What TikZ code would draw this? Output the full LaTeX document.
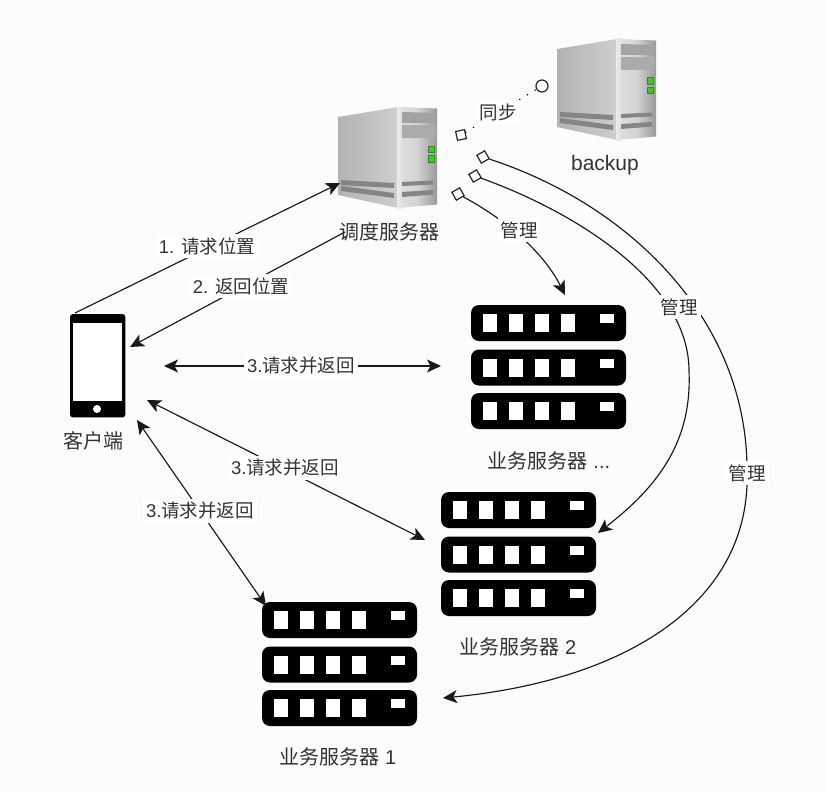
\documentclass[tikz,border=0pt]{standalone}
\usepackage{fontspec}
\setmainfont{Liberation Sans}
\newfontfamily\cjk{Noto Sans CJK SC}
\usetikzlibrary{arrows.meta,shapes.geometric,calc}
\definecolor{bgc}{HTML}{FCFCFC}
\definecolor{txt}{HTML}{333333}
\definecolor{led}{HTML}{45C42D}
\tikzset{
  headtip/.tip={Stealth[length=14pt,width=13pt,inset=3.5pt]},
  conn/.style={draw=black!90,line width=1.15pt,-headtip},
  twoway/.style={draw=black!90,line width=1.15pt,headtip-headtip},
  lab/.style={fill=white,text=txt,font=\fontsize{18.5}{22}\selectfont,inner sep=3pt},
  captext/.style={text=txt,font=\fontsize{20}{24}\selectfont,inner sep=0pt},
  sqr/.style={rectangle,draw=black!85,fill=white,line width=1.2pt,minimum size=9pt,inner sep=0pt},
  circ/.style={circle,draw=black!85,fill=white,line width=1.2pt,minimum size=12pt,inner sep=0pt},
  iconbox/.style={inner sep=0pt,draw=none,anchor=north west},
  rackrow/.style={fill=black,rounded corners=8pt},
  win/.style={fill=white},
  pics/rack/.style={code={
    \foreach \dy in {0,44.5,88}{
      \fill[rackrow] (0,\dy) rectangle (155,\dy+36);
      \foreach \dx in {12,38,64,90}{\fill[win] (\dx,\dy+9) rectangle (\dx+14,\dy+27);}
      \fill[win] (129,\dy+9) rectangle (143,\dy+18);
    }}},
  pics/tower/.style={code={
    \shade[left color=black!30,right color=black!19] (0,10) -- (60,0) -- (60,101) -- (0,88) -- cycle;
    \shade[left color=black!12,right color=black!40,middle color=black!17] (60,0) -- (99,1.5) -- (99,97.5) -- (60,101) -- cycle;
    \shade[left color=black!8,right color=black!12] (59,0) rectangle (64,101);
    \fill[black!36] (64,5) -- (98,6) -- (98,16) -- (64,16) -- cycle;
    \fill[black!33] (64,18) -- (98,18.5) -- (98,31) -- (64,31) -- cycle;
    \fill[black!30!led] (89.5,38.5) rectangle (96.5,46);
    \fill[black!30!led] (89.5,48) rectangle (96.5,55.5);
    \fill[led] (90.5,39.5) rectangle (95.5,45);
    \fill[led] (90.5,49) rectangle (95.5,54.5);
    \fill[black!48] (3,73) -- (56,76) -- (56,81) -- (3,78) -- cycle;
    \fill[black!48] (3,79) -- (56,86) -- (56,91) -- (3,84) -- cycle;
    \fill[black!48] (64,75) -- (95,73.5) -- (95,77.5) -- (64,79) -- cycle;
    \fill[black!48] (64,85) -- (95,83) -- (95,87.5) -- (64,90) -- cycle;
  }},
}
\newcommand{\zh}[1]{{\cjk #1}}
\begin{document}
\begin{tikzpicture}[x=1pt,y=-1pt]
\useasboundingbox (0,0) rectangle (825,792);
\fill[bgc] (0,0) rectangle (825,792);

% icons
\node[iconbox,minimum width=100pt,minimum height=101pt] (sched) at (338,107) {};
\pic at (sched.north west) {tower};
\node[iconbox,minimum width=99pt,minimum height=100pt] (backup) at (557,39) {};
\pic at (backup.north west) {tower};
\node[iconbox,minimum width=155pt,minimum height=124pt] (rackN) at (471,305) {};
\pic at (rackN.north west) {rack};
\node[iconbox,minimum width=155pt,minimum height=124pt] (rackB) at (441,492) {};
\pic at (rackB.north west) {rack};
\node[iconbox,minimum width=155pt,minimum height=124pt] (rackA) at (262,602) {};
\pic at (rackA.north west) {rack};
\node[iconbox,minimum width=55pt,minimum height=103pt] (phone) at (70,314) {};
\fill[black,rounded corners=3pt] (phone.north west) rectangle (phone.south east);
\fill[white] (73,323) rectangle (122,401);
\fill[white] (97,409) circle (4);

% captions
\node[captext] (capSched) at (389,232) {\zh{调度服务器}};
\node[captext,font=\fontsize{21}{24}\selectfont] (capBackup) at (605,165) {backup};
\node[captext] (capPhone) at (93,441) {\zh{客户端}};
\node[captext] (capN) at (549,461) {\zh{业务服务器} ...};
\node[captext] (capB) at (518,647) {\zh{业务服务器} 2};
\node[captext] (capA) at (338,757) {\zh{业务服务器} 1};

% connector ends
\coordinate (p1) at (75,313);
\coordinate (s1) at (340,183);
\coordinate (s2) at (345,232);
\coordinate (p2) at (130,347);
\coordinate (p3) at (164,366);
\coordinate (n3) at (441,366);
\coordinate (p4) at (147,400);
\coordinate (b4) at (425,540);
\coordinate (p5) at (137,420);
\coordinate (a5) at (266,606);
\coordinate (nTop) at (565,295);
\coordinate (bRight) at (598,533);
\coordinate (aRight) at (443,698);

% ends of the manage and sync links
\node[sqr,rotate=12] (d0) at (461,135) {};
\node[circ] (c0) at (542,86) {};
\node[sqr,rotate=30] (d1) at (458,194) {};
\node[sqr,rotate=30] (d2) at (475,176) {};
\node[sqr,rotate=30] (d3) at (483,157) {};

% connectors
\draw[conn] (p1) -- (s1);
\draw[conn] (s2) -- (p2);
\draw[twoway] (p3) -- (n3);
\draw[twoway] (p4) -- (b4);
\draw[twoway] (p5) -- (a5);
\draw[conn] (d1) .. controls (510,222) and (545,255) .. (nTop);
\draw[conn] (d2) .. controls (570,210) and (689,280) .. (689,371) .. controls (692,440) and (660,485) .. (bRight);
\draw[conn] (d3) .. controls (630,205) and (747,320) .. (747,470) .. controls (752,600) and (630,680) .. (aRight);
\draw[draw=black,line width=1.3pt,line cap=round,dash pattern=on 0.5pt off 8.5pt] (d0) -- (c0);

% labels
\node[lab] (l1) at (207,246) {1. \zh{请求位置}};
\node[lab] (l2) at (241,286) {2. \zh{返回位置}};
\node[lab] (l3) at (301,366) {3.\zh{请求并返回}};
\node[lab] (l4) at (285,468) {3.\zh{请求并返回}};
\node[lab] (l5) at (200,511) {3.\zh{请求并返回}};
\node[lab] (l6) at (519,230) {\zh{管理}};
\node[lab] (l7) at (679,307) {\zh{管理}};
\node[lab] (l8) at (747,473) {\zh{管理}};
\node[lab] (l9) at (498,112) {\zh{同步}};
\end{tikzpicture}
\end{document}
